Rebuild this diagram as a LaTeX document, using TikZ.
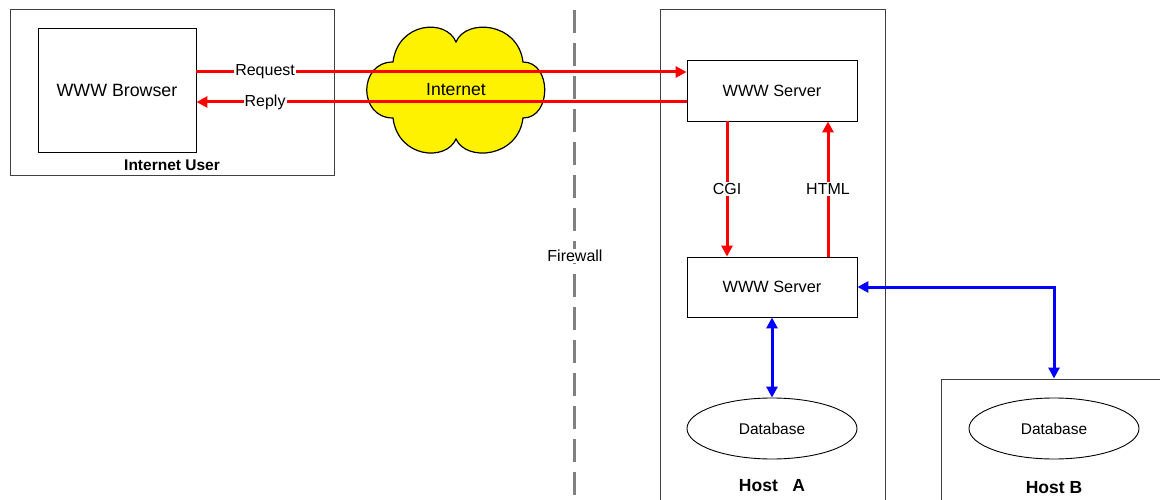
\documentclass[tikz,border=0pt]{standalone}
\usepackage{fontspec}
\setmainfont{Liberation Sans}
\usetikzlibrary{arrows.meta,shapes.geometric}
\begin{document}
\begin{tikzpicture}[x=1pt,y=-1pt,
  box/.style={draw=black,line width=0.9pt,inner sep=0pt,fill=white},
  host/.style={draw=black!75,line width=1pt,inner sep=0pt},
  db/.style={ellipse,draw=black,line width=0.9pt,minimum width=170pt,minimum height=61pt,inner sep=0pt,font=\fontsize{15.5}{18}\selectfont},
  lbl/.style={fill=white,inner sep=1pt,font=\fontsize{16}{19}\selectfont},
  redarrow/.style={draw=red,line width=3pt,-{Triangle[length=11pt,width=11pt]}},
  bluearrow/.style={draw=blue,line width=3pt,{Triangle[length=11pt,width=11pt]}-{Triangle[length=11pt,width=11pt]}},
  hostlbl/.style={font=\bfseries\fontsize{17.5}{20}\selectfont,inner sep=0pt}]
\clip (0,0) rectangle (1160,500);
\fill[white] (0,0) rectangle (1160,500);

% outer boxes
\node[host,minimum width=324pt,minimum height=166pt] (user) at (172,93) {};
\node[host,minimum width=225pt,minimum height=520pt] (hostA) at (772.5,270) {};
\node[host,minimum width=240pt,minimum height=140pt] (hostB) at (1061,449) {};

\node[font=\bfseries\fontsize{15.5}{18}\selectfont,inner sep=0pt] (userlbl) at (172,165) {Internet User};
\node[hostlbl] (hostAlbl) at (772,486) {Host~~~A};
\node[hostlbl] (hostBlbl) at (1054,488) {Host B};

% browser
\node[box,minimum width=158pt,minimum height=124pt,font=\fontsize{17.8}{21}\selectfont] (browser) at (117,90) {WWW Browser};

% cloud
\filldraw[fill=yellow,draw=black,line width=1.2pt]
  (393,62) .. controls (398,22) and (446,18) .. (456,42)
  .. controls (466,18) and (518,22) .. (523,62)
  .. controls (552,62) and (552,118) .. (523,118)
  .. controls (518,158) and (466,162) .. (456,139)
  .. controls (446,162) and (398,158) .. (393,118)
  .. controls (358,118) and (358,62) .. (393,62) -- cycle;
\node[font=\fontsize{17.6}{21}\selectfont,inner sep=0pt] (internet) at (456,90) {Internet};

% firewall
\coordinate (fwtop) at (574,10);
\coordinate (fwbot) at (574,500);
\draw[draw=black!50,line width=3pt,dash pattern=on 23pt off 10pt] (fwtop) -- (fwbot);
\node[lbl] (fw) at (575,256) {Firewall};

% servers
\node[box,minimum width=170pt,minimum height=61pt,font=\fontsize{16.3}{19}\selectfont] (srv1) at (772,90.5) {WWW Server};
\node[box,minimum width=170pt,minimum height=60pt,font=\fontsize{16.3}{19}\selectfont] (srv2) at (772,287) {WWW Server};

% databases
\node[db] (dbA) at (772,428.5) {Database};
\node[db] (dbB) at (1054,428.5) {Database};

% request / reply
\draw[redarrow] ([yshift=18pt]browser.east) -- ([yshift=18pt]browser.east -| srv1.west)
  node[lbl,pos=0.14] {Request};
\draw[redarrow] ([yshift=-12pt]browser.east -| srv1.west) -- ([yshift=-12pt]browser.east)
  node[lbl,pos=0.86] {Reply};

% CGI / HTML
\draw[redarrow] ([xshift=-45pt]srv1.south) -- ([xshift=-45pt]srv2.north)
  node[lbl,midway] {CGI};
\draw[redarrow] ([xshift=56pt]srv2.north) -- ([xshift=56pt]srv1.south)
  node[lbl,midway] {HTML};

% blue links
\draw[bluearrow] (srv2.south) -- (dbA.north);
\draw[bluearrow] (srv2.east) -| (dbB.north |- hostB.north);
\end{tikzpicture}
\end{document}
